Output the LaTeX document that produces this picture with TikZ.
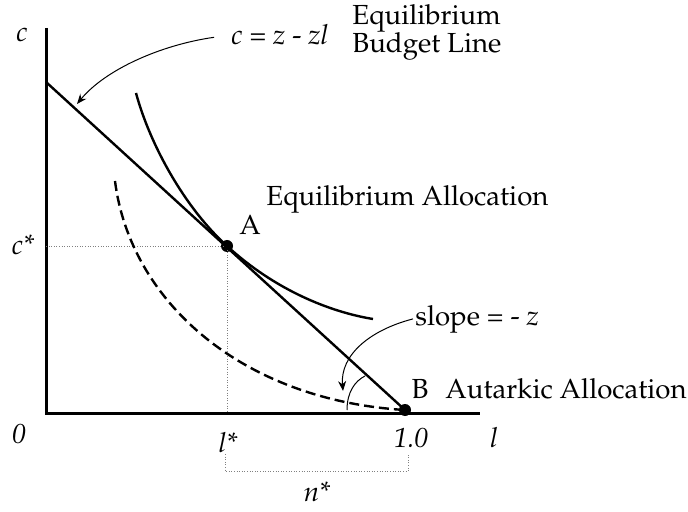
\documentclass[tikz,border=0pt]{standalone}
\usepackage[T1]{fontenc}
\usepackage{mathpazo}
\usetikzlibrary{arrows.meta}
\begin{document}
\begin{tikzpicture}[
        x=0.5pt, y=-0.5pt,
        every node/.style={font=\fontsize{13.8}{14}\selectfont, inner sep=1pt},
        axis/.style={line width=1.5pt},
        curve/.style={line width=1.2pt},
        guide/.style={line width=0.3pt, densely dotted, gray},
        pointer/.style={-{Stealth[length=5pt, width=4pt]}, line width=0.5pt},
        dot/.style={circle, fill, inner sep=0pt, minimum size=6pt}
    ]
        \useasboundingbox (0,0) rectangle (688,512);

        % axes
        \coordinate (O) at (46,413);
        \coordinate (ctop) at (46,28);
        \coordinate (lend) at (480,413);
        \draw[axis] (ctop) -- (O) -- (lend);

        % points
        \coordinate (Y0) at (46,82);
        \node[dot] (A) at (227,246) {};
        \node[dot] (B) at (405,410) {};
        \coordinate (Ac) at (46,246);
        \coordinate (Al) at (227,413);

        % guides
        \draw[guide] (Ac) -- (A.center) -- (Al);

        % budget line
        \draw[curve] (Y0) -- (B.center);

        % indifference curves
        \draw[curve] (136,93) .. controls (150,145) and (185,208) .. (A.center)
                     .. controls (275,290) and (330,312) .. (373,319);
        \draw[curve, dashed, dash pattern=on 5pt off 2.5pt] (115,181) .. controls (130,300) and (240,400) .. (B.center);

        % angle at B
        \draw[line width=0.5pt] (347,410) .. controls (347,392) and (355,381) .. (365,376);

        % labels
        \node[anchor=base] (clab) at (22,42) {\textit{c}};
        \node[anchor=base west] (eqn) at (229,45) {\textit{c} = \textit{z} - \textit{zl}};
        \node[anchor=base west, inner sep=0pt] (ebl1) at (352,25) {Equilibrium};
        \node[anchor=base west, inner sep=0pt] (ebl2) at (352,53) {Budget Line};
        \node[anchor=base west, inner sep=0pt] (ealloc) at (266,206) {Equilibrium Allocation};
        \node[anchor=base] (Alab) at (250,235) {A};
        \node[anchor=base] (cstar) at (23,255) {\textit{c*}};
        \node[anchor=base west] (slope) at (413,325) {slope = - \textit{z}};
        \node[anchor=base] (Blab) at (420,398) {B};
        \node[anchor=base west, inner sep=0pt] (aalloc) at (445,398) {Autarkic Allocation};
        \node[anchor=base] (zero) at (19,443) {\textit{0}};
        \node[anchor=base] (lstar) at (228,452) {\textit{l*}};
        \node[anchor=base] (one) at (411,447) {\textit{1.0}};
        \node[anchor=base] (llab) at (494,447) {\textit{l}};
        \node[anchor=base] (nstar) at (317,501) {\textit{n*}};

        % bracket
        \coordinate (n1) at (225,454);
        \coordinate (n2) at (408,454);
        \draw[guide] (n1) -- (225,471) -- (408,471) -- (n2);

        % pointers
        \draw[pointer, shorten <=7.5pt] (eqn.west) .. controls (160,45) and (105,70) .. (77,104);
        \draw[pointer] (slope.west) .. controls (370,330) and (340,355) .. (343,391);
\end{tikzpicture}
\end{document}
